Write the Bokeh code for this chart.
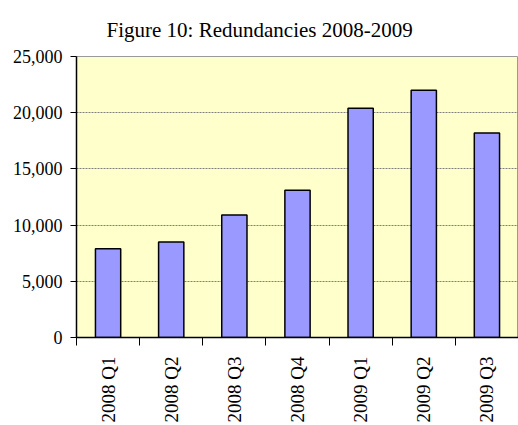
from bokeh.plotting import figure
from bokeh.models import FixedTicker, NumeralTickFormatter, Range1d
from bokeh.embed import file_html
from bokeh.resources import INLINE

# Quarterly redundancy counts
quarters = ["2008 Q1", "2008 Q2", "2008 Q3", "2008 Q4", "2009 Q1", "2009 Q2", "2009 Q3"]
redundancies = [7900, 8500, 10900, 13100, 20400, 22000, 18200]
y_ticks = [0, 5000, 10000, 15000, 20000, 25000]

FONT = "Liberation Serif"

centers = [i + 0.5 for i in range(len(quarters))]
bounds = list(range(len(quarters) + 1))

p = figure(
    width=518, height=425,
    output_backend="svg", toolbar_location=None,
    x_range=Range1d(0, len(quarters)), y_range=Range1d(0, 25000),
    min_border_left=76, min_border_right=0, min_border_top=56, min_border_bottom=88,
    title="Figure 10: Redundancies 2008-2009",
)

p.background_fill_color = "#FFFFCC"
p.border_fill_color = "white"
p.outline_line_color = "#9a9a9a"
p.outline_line_width = 1

p.title.text_font = FONT
p.title.text_font_size = "21px"
p.title.text_font_style = "normal"
p.title.text_color = "black"
p.title.align = "left"
p.title.vertical_align = "top"
p.title.offset = 30
p.title.standoff = 25

p.vbar(x=centers, top=redundancies, width=0.4,
       fill_color="#9999FF", line_color="black", line_width=1.5)

# x axis: labels centred on bars, tick marks between categories
xa = p.xaxis[0]
xa.ticker = FixedTicker(ticks=centers, minor_ticks=bounds)
xa.major_label_overrides = {c: q for c, q in zip(centers, quarters)}
xa.major_label_orientation = 1.5708
xa.major_tick_out = 0
xa.major_tick_in = 0
xa.minor_tick_out = 8
xa.minor_tick_in = 0
xa.minor_tick_line_color = "black"
xa.minor_tick_line_width = 1
xa.major_label_standoff = 11
xa.major_label_text_font = FONT
xa.major_label_text_font_size = "19px"
xa.major_label_text_color = "black"
xa.axis_line_color = "black"
xa.axis_line_width = 1.5

ya = p.yaxis[0]
ya.ticker = FixedTicker(ticks=y_ticks)
ya.formatter = NumeralTickFormatter(format="0,0")
ya.major_tick_out = 6
ya.major_tick_in = 0
ya.minor_tick_line_color = None
ya.major_tick_line_color = "black"
ya.major_label_standoff = 8
ya.major_label_text_font = FONT
ya.major_label_text_font_size = "18px"
ya.major_label_text_color = "black"
ya.axis_line_color = "black"
ya.axis_line_width = 1.5

p.xgrid.grid_line_color = None
p.ygrid.grid_line_color = "#808080"
p.ygrid.grid_line_width = 1
p.ygrid.grid_line_dash = "2 1"

open("out.html", "w").write(file_html(p, INLINE))
